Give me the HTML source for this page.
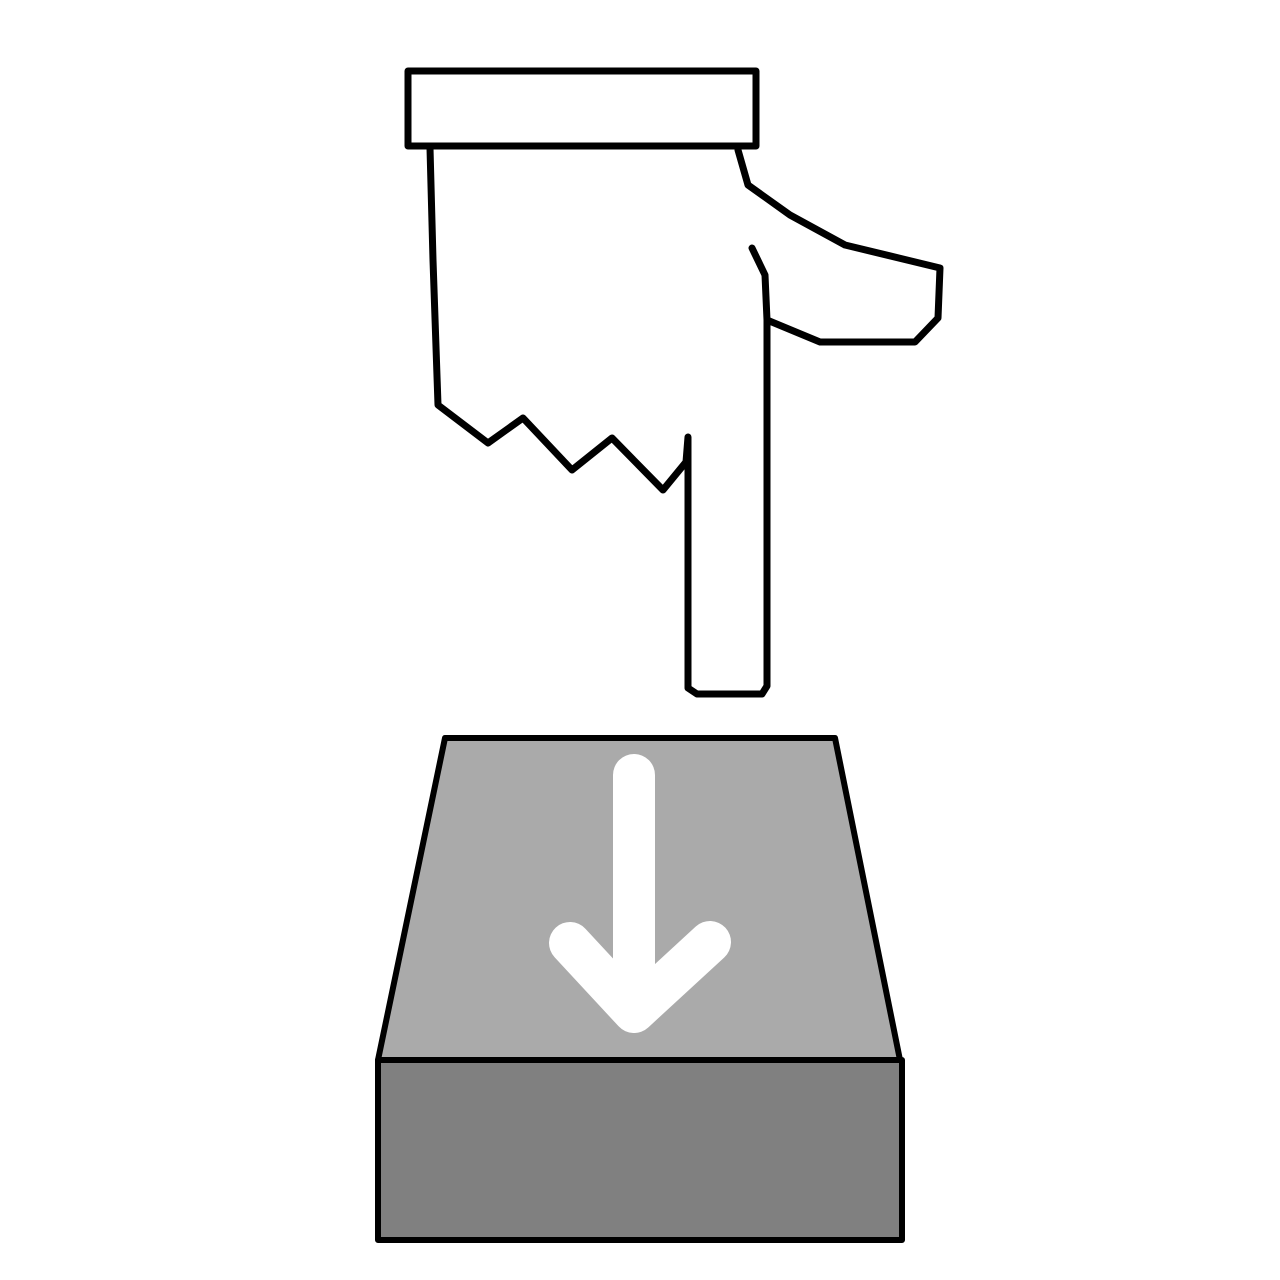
<!DOCTYPE html>
<html>
<head>
<meta charset="utf-8">
<style>
html,body{margin:0;padding:0;background:#fff;}
svg{display:block;}
</style>
</head>
<body>
<svg width="1280" height="1280" viewBox="0 0 1280 1280">
  <rect x="0" y="0" width="1280" height="1280" fill="#fff"/>
  <g fill="#fff" stroke="#000" stroke-width="7" stroke-linejoin="round" stroke-linecap="round">
    <path
      d="M430,140 L430,148 L433,260 L438,405 L488,443 L523,418 L572,470 L612,438 L663,490 L686,462 L688,437 L688,688 L697,694 L762,694 L767,686 L767,320 L820,342 L915,342 L938,318 L940,268 L845,245 L790,215 L748,185 L738,150 L738,140 Z"/>
    <path fill="none" d="M752,248 L765,275 L767,320"/>
    <rect x="408" y="71" width="348" height="75"/>
  </g>
  <g stroke="#000" stroke-width="6" stroke-linejoin="round">
    <polygon points="445,738 835,738 900,1060 378,1060" fill="#aaaaaa"/>
    <rect x="378" y="1060" width="524" height="180" fill="#808080"/>
  </g>
  <g fill="none" stroke="#fff" stroke-width="42" stroke-linecap="round" stroke-linejoin="round">
    <path d="M634,775 L634,1010"/>
    <path d="M570,943 L634,1012 L710,942"/>
  </g>
</svg>
</body>
</html>
